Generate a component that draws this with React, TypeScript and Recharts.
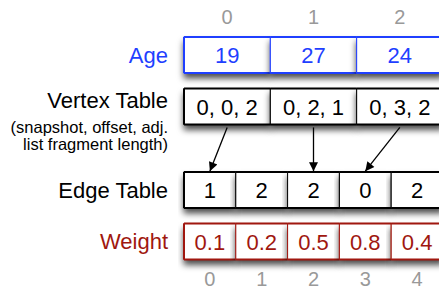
import {ComposedChart, Bar, Line, XAxis, YAxis, ReferenceLine} from 'recharts'

// table contents
const rowNames: string[] = ['Age', 'Vertex Table', 'Edge Table', 'Weight']
const ages: number[] = [19, 27, 24]
const vertexTable: number[][] = [[0, 0, 2], [0, 2, 1], [0, 3, 2]] // snapshot, offset, fragment length
const edgeTable: number[] = [1, 2, 2, 0, 2]
const weights: number[] = [0.1, 0.2, 0.5, 0.8, 0.4]
const vertexIndex: string[] = ['0', '1', '2']
const edgeIndex: string[] = ['0', '1', '2', '3', '4']
const vertexNote: string[] = ['(snapshot, offset, adj.', 'list fragment length)']

// layout
const SPAN = 5
const ROW_Y = [0, 1, 2.62, 3.62]
const ROW_COLOR = ['#1f3fff', '#000000', '#000000', '#a0170f']
const FONT = '"Liberation Sans", Arial, Helvetica, sans-serif'

const rowCells: string[][] = [
    ages.map(String),
    vertexTable.map(t => t.join(', ')),
    edgeTable.map(String),
    weights.map(String),
]

const tableData = rowCells.map((cells, r) => {
    var row: any = {name: rowNames[r], y: ROW_Y[r]}
    for (var i = 0; i < SPAN; i++) {
        row['c' + i] = i < cells.length ? SPAN / cells.length : 0
        row['t' + i] = i < cells.length ? cells[i] : ''
    }
    return row
})

const colCenters = (n: number) => Array.from({length: n}, (_, i) => (i + 0.5) * SPAN / n)

const makeCell = (col: number) => (props: any) => {
    const {x, y, width, height, index, payload} = props
    if (!width || width <= 0) return null
    const c = ROW_COLOR[index]
    return (
        <g>
            <rect x={x} y={y} width={width} height={height} fill="#fff" stroke={c} strokeWidth={1} filter="url(#boxShadow)"/>
            <line x1={x} y1={y} x2={x + width} y2={y} stroke={c} strokeWidth={2}/>
            <line x1={x} y1={y + height} x2={x + width} y2={y + height} stroke={c} strokeWidth={2}/>
            {col === 0 && <line x1={x} y1={y} x2={x} y2={y + height} stroke={c} strokeWidth={2}/>}
            <text x={x + width / 2} y={y + height / 2 + 8} textAnchor="middle" fill={c} fontSize={22} fontFamily={FONT}>
                {payload['t' + col]}
            </text>
        </g>
    )
}

const RowTick = (props: any) => {
    const {x, y, index} = props
    const c = ROW_COLOR[index]
    if (index === 1) {
        return (
            <g>
                <text x={x} y={y + 2} textAnchor="end" fill={c} fontSize={22} fontFamily={FONT}>{rowNames[index]}</text>
                <text x={x} y={y + 27} textAnchor="end" fill={c} fontSize={16.5} fontFamily={FONT}>{vertexNote[0]}</text>
                <text x={x} y={y + 44} textAnchor="end" fill={c} fontSize={16.5} fontFamily={FONT}>{vertexNote[1]}</text>
            </g>
        )
    }
    return (
        <text x={x} y={y + 8} textAnchor="end" fill={c} fontSize={22} fontFamily={FONT}>{rowNames[index]}</text>
    )
}

const Arrow = (props: any) => (
    <line x1={props.x1} y1={props.y1} x2={props.x2} y2={props.y2} stroke="#000" strokeWidth={1.3} markerEnd="url(#arrowHead)"/>
)

export default function App() {
    const vCenters = colCenters(vertexTable.length)
    const eCenters = colCenters(edgeTable.length)
    return (
        <div style={{position: 'absolute', left: 0, top: 0, width: 439, height: 290, overflow: 'hidden', background: '#fff', fontFamily: FONT}}>
            <svg width={0} height={0} style={{position: 'absolute'}}>
                <defs>
                    <filter id="boxShadow" x="-10%" y="-20%" width="120%" height="170%">
                        <feDropShadow dx={0} dy={5} stdDeviation={3} floodColor="#000" floodOpacity={0.7}/>
                    </filter>
                    <marker id="arrowHead" viewBox="0 0 10 10" refX={10} refY={5} markerWidth={11} markerHeight={9} markerUnits="userSpaceOnUse" orient="auto">
                        <path d="M0,0 L10,5 L0,10 z" fill="#000"/>
                    </marker>
                </defs>
            </svg>
            <ComposedChart layout="vertical" width={450} height={290} data={tableData} margin={{top: 0, right: 7, bottom: 0, left: 0}}>
                <XAxis xAxisId="top" orientation="top" type="number" dataKey="c0" domain={[0, SPAN]} ticks={vCenters} interval={0}
                       tickFormatter={(v: any, i: number) => vertexIndex[i]} axisLine={false} tickLine={false} tickSize={0}
                       tickMargin={5} height={29} tick={{fill: '#999', fontSize: 20}}/>
                <XAxis xAxisId="bottom" orientation="bottom" type="number" domain={[0, SPAN]} ticks={eCenters} interval={0}
                       tickFormatter={(v: any, i: number) => edgeIndex[i]} axisLine={false} tickLine={false} tickSize={0}
                       tickMargin={6} height={24} tick={{fill: '#999', fontSize: 20}}/>
                <YAxis type="number" dataKey="y" domain={[-0.5, 4.1]} ticks={ROW_Y} interval={0} width={184}
                       axisLine={false} tickLine={false} tickSize={0} tickMargin={16} tick={<RowTick/>}/>
                {
                    [0, 1, 2, 3, 4].map(i => (
                        <Bar key={i} xAxisId="bottom" dataKey={'c' + i} stackId="row" barSize={36} isAnimationActive={false} shape={makeCell(i)}/>
                    ))
                }
                <Line xAxisId="top" dataKey="c0" stroke="none" dot={false} activeDot={false} legendType="none" isAnimationActive={false}/>
                {
                    vertexTable.map((t, i) => (
                        <ReferenceLine key={'a' + i} xAxisId="bottom" ifOverflow="visible"
                                       segment={[{x: vCenters[i], y: ROW_Y[1] + 0.41}, {x: eCenters[t[1]], y: ROW_Y[2] - 0.36}]}
                                       shape={Arrow}/>
                    ))
                }
            </ComposedChart>
        </div>
    )
}
